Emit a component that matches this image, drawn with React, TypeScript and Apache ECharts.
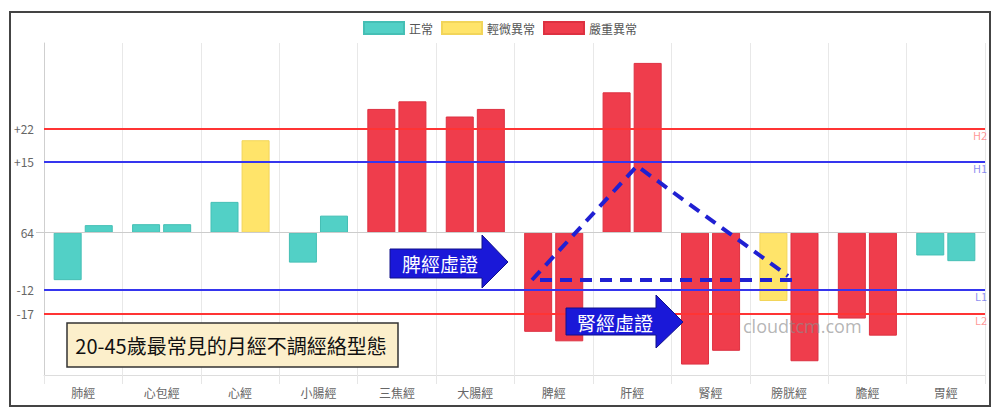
import React, { useEffect, useRef } from "react";
import * as echarts from "echarts";

const categories = ["肺經", "心包經", "心經", "小腸經", "三焦經", "大腸經", "脾經", "肝經", "腎經", "膀胱經", "膽經", "胃經"];
const leftValues = [-10.0, 1.8, 6.5, -6.3, 26.1, 24.5, -20.9, 29.6, -27.8, -14.4, -18.1, -4.8];
const rightValues = [1.6, 1.8, 19.5, 3.6, 27.7, 26.1, -22.9, 35.8, -24.9, -27.1, -21.7, -6.0];
const leftStatus = ["正常", "正常", "正常", "正常", "嚴重異常", "嚴重異常", "嚴重異常", "嚴重異常", "嚴重異常", "輕微異常", "嚴重異常", "正常"];
const rightStatus = ["正常", "正常", "輕微異常", "正常", "嚴重異常", "嚴重異常", "嚴重異常", "嚴重異常", "嚴重異常", "嚴重異常", "嚴重異常", "正常"];
const statusNames = ["正常", "輕微異常", "嚴重異常"];
const statusColors = ["#52D0C6", "#FFE46A", "#EF3D4C"];
const statusBorders = ["#45BFB5", "#F2D55A", "#DD3141"];
const yTickValues = [22, 15, 0, -12, -17];
const yTickLabels = ["+22", "+15", "64", "-12", "-17"];
const refLines = [
  { value: 22, name: "H2", color: "#FF3434", text: "rgba(255,60,60,0.55)" },
  { value: 15, name: "H1", color: "#3535EE", text: "rgba(60,60,230,0.6)" },
  { value: -12, name: "L1", color: "#3535EE", text: "rgba(60,60,230,0.6)" },
  { value: -17, name: "L2", color: "#FF3434", text: "rgba(255,60,60,0.55)" },
];

const FONT = '"Noto Sans CJK TC", "Noto Sans", sans-serif';

export default function App() {
  const ref = useRef<HTMLDivElement>(null);
  useEffect(() => {
    if (!ref.current) return;
    const chart = echarts.init(ref.current, undefined, { renderer: "svg" });
    const series: any[] = [];
    (["L", "R"] as const).forEach((side) => {
      const vals = side === "L" ? leftValues : rightValues;
      const st = side === "L" ? leftStatus : rightStatus;
      statusNames.forEach((s, si) => {
        series.push({
          type: "bar",
          name: s,
          stack: side,
          barWidth: 28,
          barGap: "11%",
          data: vals.map((v, i) => (st[i] === s ? v : "-")),
          itemStyle: { color: statusColors[si], borderColor: statusBorders[si], borderWidth: 1 },
          emphasis: { disabled: true },
        });
      });
    });
    series[0].markLine = {
      silent: true,
      symbol: "none",
      animation: false,
      data: [
        { yAxis: 0, lineStyle: { color: "#cccccc", width: 1, type: "solid" }, label: { show: false } },
        ...refLines.map((l) => ({
          yAxis: l.value,
          lineStyle: { color: l.color, width: 2, type: "solid" },
          label: {
            show: true,
            formatter: l.name,
            position: "insideEndBottom",
            distance: [-2, 1],
            color: l.text,
            fontSize: 11,
            fontFamily: FONT,
          },
        })),
      ],
    };
    chart.setOption({
      animation: false,
      textStyle: { fontFamily: FONT },
      legend: {
        data: statusNames,
        top: 16,
        left: "center",
        itemWidth: 40,
        itemHeight: 12,
        itemGap: 8,
        icon: "rect",
        selectedMode: false,
        textStyle: { color: "#555", fontSize: 12, fontFamily: FONT },
      },
      grid: { left: 44, right: 15, top: 43, bottom: 42, containLabel: false },
      xAxis: {
        type: "category",
        data: categories,
        axisLine: { onZero: false, lineStyle: { color: "#dddddd" } },
        axisTick: { show: true, length: 9, lineStyle: { color: "#e6e6e6" } },
        splitLine: { show: true, lineStyle: { color: "#e8e8e8" } },
        axisLabel: { color: "#666", fontSize: 12, margin: 11, fontFamily: FONT },
      },
      yAxis: {
        type: "value",
        min: -30,
        max: 40,
        axisLine: { show: true, lineStyle: { color: "#cfcfcf" } },
        splitLine: { show: false },
        axisTick: { show: true, length: 8, customValues: [0], lineStyle: { color: "#cccccc" } },
        axisLabel: {
          customValues: yTickValues,
          color: "#666",
          fontSize: 12,
          margin: 10,
          fontFamily: FONT,
          formatter: (v: number) => {
            const idx = yTickValues.indexOf(v);
            return idx >= 0 ? yTickLabels[idx] : "";
          },
        },
      },
      series,
      graphic: [
        {
          type: "rect",
          silent: true,
          shape: { x: 10, y: 12, width: 980, height: 394 },
          style: { fill: "none", stroke: "#444", lineWidth: 2 },
          z: 100,
        },
        {
          type: "polyline",
          silent: true,
          shape: { points: [[532, 280], [637, 166], [788, 276]] },
          style: { stroke: "#2020D2", lineWidth: 4, lineDash: [12, 8], fill: "none" },
          z: 100,
        },
        {
          type: "line",
          silent: true,
          shape: { x1: 540, y1: 280, x2: 792, y2: 280 },
          style: { stroke: "#2020D2", lineWidth: 4, lineDash: [12, 8] },
          z: 100,
        },
        {
          type: "polygon",
          silent: true,
          shape: { points: [[390, 249], [482, 249], [482, 235], [508, 262], [482, 288], [482, 278], [390, 278]] },
          style: { fill: "#1A18D8", stroke: "#10108a", lineWidth: 1 },
          z: 100,
        },
        {
          type: "text",
          silent: true,
          x: 440,
          y: 263,
          style: { text: "脾經虛證", fill: "#ffffff", fontSize: 19, fontFamily: FONT, align: "center", verticalAlign: "middle" },
          z: 101,
        },
        {
          type: "polygon",
          silent: true,
          shape: { points: [[566, 308], [656, 308], [656, 295], [683, 322], [656, 348], [656, 335], [566, 335]] },
          style: { fill: "#1A18D8", stroke: "#10108a", lineWidth: 1 },
          z: 100,
        },
        {
          type: "text",
          silent: true,
          x: 615,
          y: 322,
          style: { text: "腎經虛證", fill: "#ffffff", fontSize: 19, fontFamily: FONT, align: "center", verticalAlign: "middle" },
          z: 101,
        },
        {
          type: "rect",
          silent: true,
          shape: { x: 67, y: 323, width: 331, height: 44 },
          style: { fill: "#FCEFCB", stroke: "#333", lineWidth: 1.5 },
          z: 100,
        },
        {
          type: "text",
          silent: true,
          x: 231,
          y: 345,
          style: { text: "20-45歲最常見的月經不調經絡型態", fill: "#111", fontSize: 20, fontFamily: FONT, align: "center", verticalAlign: "middle" },
          z: 101,
        },
        {
          type: "text",
          silent: true,
          x: 743,
          y: 326,
          style: { text: "cloudtcm.com", fill: "rgba(140,140,140,0.65)", fontSize: 18, fontFamily: '"Open Sans", sans-serif', align: "left", verticalAlign: "middle" },
          z: 101,
        },
      ],
    });
    return () => chart.dispose();
  }, []);
  return <div ref={ref} style={{ position: "absolute", left: 0, top: 0, width: 1000, height: 417, background: "#fff" }} />;
}
